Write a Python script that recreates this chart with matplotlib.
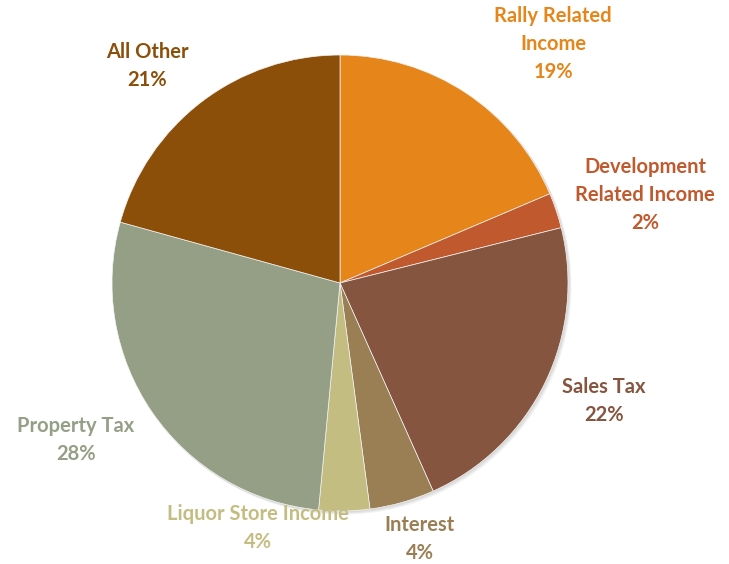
import matplotlib
matplotlib.use("Agg")
import matplotlib.pyplot as plt
from matplotlib.patches import Circle

categories = ["Rally Related\nIncome", "Development\nRelated Income", "Sales Tax", "Interest",
              "Liquor Store Income", "Property Tax", "All Other"]
values = [18.6, 2.5, 22.2, 4.6, 3.6, 27.8, 20.7]
pct_labels = ["19%", "2%", "22%", "4%", "4%", "28%", "21%"]
colors = ["#E6851A", "#C05A2E", "#85553F", "#9A7F55", "#C4BD82", "#949F86", "#8B4F0A"]

W, H = 729, 564
fig = plt.figure(figsize=(W / 100, H / 100), dpi=100)
ax = fig.add_axes([0, 0, 1, 1])

cx, cy, r = 340, H - 283, 228
# soft shadow
for i, a in enumerate([0.05, 0.05, 0.05]):
    ax.add_patch(Circle((cx + 1 + i, cy - 1 - i), r + 0.5, color="black", alpha=a, lw=0, zorder=0))
ax.pie(values, colors=colors, startangle=90, counterclock=False,
       center=(cx, cy), radius=r, frame=True,
       wedgeprops=dict(linewidth=0.5, edgecolor="#f4f4f4", zorder=1))
ax.set_xlim(0, W)
ax.set_ylim(0, H)
ax.set_aspect("equal")
ax.axis("off")

# label centres in pixel coordinates (x, y from top)
label_pos = [(553, 44), (645, 195), (604, 401), (420, 539), (258, 528), (76, 440), (147, 66)]
for cat, pct, col, (px, py) in zip(categories, pct_labels, colors, label_pos):
    ax.text(px, H - py, f"{cat}\n{pct}", ha="center", va="center", color=col,
            fontsize=14.5, fontweight="bold", family="Lato", linespacing=1.5, zorder=5)

fig.savefig("out.png", dpi=100)
